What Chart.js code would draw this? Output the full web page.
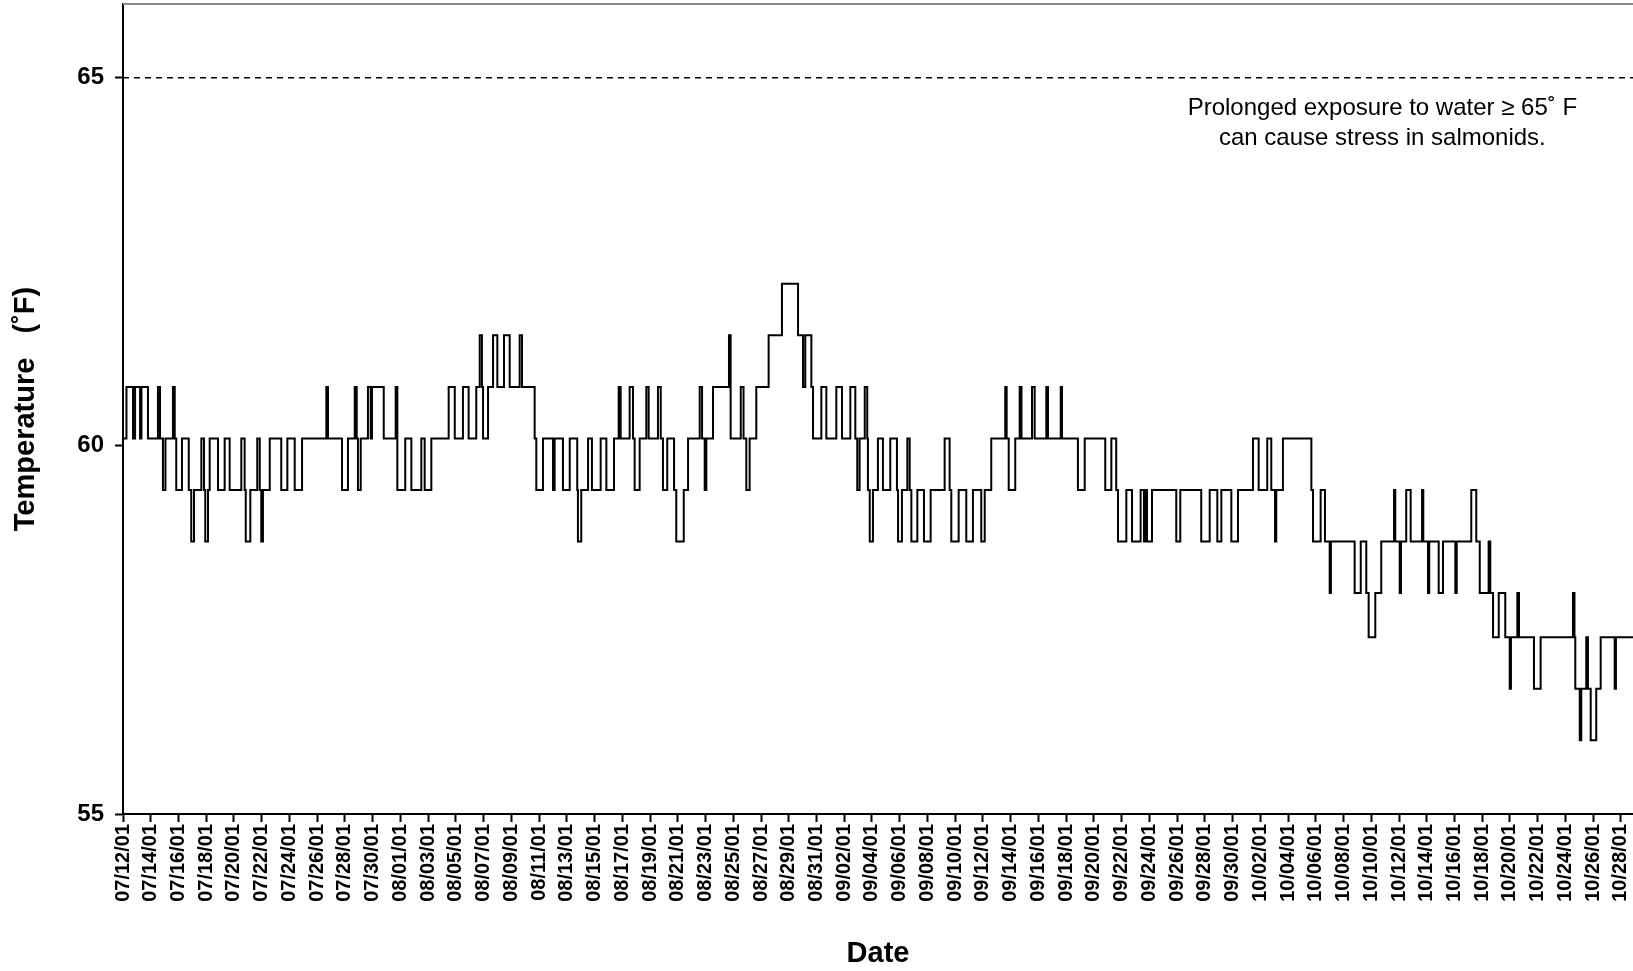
<!DOCTYPE html>
<html>
<head>
<meta charset="utf-8">
<title>Water temperature</title>
<script src="https://cdn.jsdelivr.net/npm/chart.js@4.4.1/dist/chart.umd.min.js"></script>
<style>
    html, body { margin: 0; padding: 0; background: #fff; }
    #wrap { position: relative; width: 1633px; height: 971px; }
</style>
</head>
<body>
<div id="wrap"><canvas id="tempChart"></canvas></div>
<script>
(function() {
    "use strict"; // Start of use strict

    // Logger trace: day offset from 07/12/01 00:00 where the reading changes, and the new reading (deg F)
    var days = [
        0, 0.25, 0.72, 0.87, 1.23, 1.33, 1.80, 2.52, 2.67, 2.88,
        3.06, 3.60, 3.73, 3.84, 4.25, 4.74, 4.92, 5.12, 5.65, 5.84,
        5.93, 6.13, 6.25, 6.85, 7.33, 7.69, 8.53, 8.77, 8.85, 9.18,
        9.68, 9.86, 9.97, 10.09, 10.58, 11.41, 11.85, 12.38, 12.91, 14.66,
        14.78, 15.79, 16.22, 16.71, 16.85, 16.94, 17.14, 17.66, 17.86, 17.95,
        18.80, 19.66, 19.78, 20.35, 20.79, 21.51, 21.75, 22.23, 23.48, 23.92,
        24.51, 24.92, 25.47, 25.72, 25.88, 25.96, 26.32, 26.68, 26.99, 27.47,
        27.88, 28.60, 28.77, 29.68, 29.80, 30.28, 31.00, 31.12, 31.72, 32.21,
        32.75, 32.80, 33.04, 33.53, 33.81, 34.44, 34.85, 35.40, 35.74, 35.88,
        36.53, 36.77, 36.89, 37.25, 37.73, 37.90, 38.57, 38.77, 38.93, 39.24,
        39.73, 39.89, 40.43, 40.74, 41.58, 41.75, 41.94, 42.06, 42.54, 43.69,
        43.81, 44.54, 44.74, 44.94, 45.18, 45.66, 46.55, 47.51, 48.67, 49.03,
        49.19, 49.63, 49.75, 50.35, 50.71, 51.43, 51.84, 52.44, 52.80, 52.94,
        53.11, 53.48, 53.66, 53.71, 53.84, 54.07, 54.43, 54.79, 55.32, 55.80,
        55.88, 56.16, 56.55, 56.72, 56.84, 57.27, 57.75, 58.23, 59.24, 59.60,
        59.72, 60.25, 60.80, 61.28, 61.88, 62.13, 62.60, 63.61, 63.71, 63.86,
        64.33, 64.65, 64.78, 65.54, 65.73, 66.57, 66.69, 67.61, 67.70, 68.85,
        69.34, 70.82, 71.26, 71.61, 71.74, 72.34, 72.75, 73.37, 73.61, 73.72,
        73.83, 74.19, 75.94, 76.23, 77.74, 78.35, 78.90, 79.19, 79.91, 80.39,
        81.47, 81.88, 82.50, 82.79, 83.06, 83.15, 83.63, 85.68, 85.80, 86.35,
        86.66, 87.00, 87.09, 88.80, 89.24, 89.64, 89.81, 90.29, 90.72, 91.64,
        91.73, 92.05, 92.14, 92.52, 92.84, 93.66, 93.75, 94.09, 94.18, 94.86,
        95.17, 96.06, 96.16, 97.21, 97.57, 97.82, 98.46, 98.58, 98.78, 99.19,
        99.66, 99.98, 100.07, 100.53, 100.65, 101.73, 102.21, 104.54, 104.65, 104.71,
        105.03, 105.14, 105.50, 105.62, 105.82, 106.22, 106.54, 107.55, 107.64, 108.87
    ];
    var tempF = [
        60.1, 60.8, 60.1, 60.8, 60.1, 60.8, 60.1, 60.8, 60.1, 59.4,
        60.1, 60.8, 60.1, 59.4, 60.1, 59.4, 58.7, 59.4, 60.1, 59.4,
        58.7, 59.4, 60.1, 59.4, 60.1, 59.4, 60.1, 59.4, 58.7, 59.4,
        60.1, 59.4, 58.7, 59.4, 60.1, 59.4, 60.1, 59.4, 60.1, 60.8,
        60.1, 59.4, 60.1, 60.8, 60.1, 59.4, 60.1, 60.8, 60.1, 60.8,
        60.1, 60.8, 59.4, 60.1, 59.4, 60.1, 59.4, 60.1, 60.8, 60.1,
        60.8, 60.1, 60.8, 61.5, 60.8, 60.1, 60.8, 61.5, 60.8, 61.5,
        60.8, 61.5, 60.8, 60.1, 59.4, 60.1, 59.4, 60.1, 59.4, 60.1,
        59.4, 58.7, 59.4, 60.1, 59.4, 60.1, 59.4, 60.1, 60.8, 60.1,
        60.8, 60.1, 59.4, 60.1, 60.8, 60.1, 60.8, 60.1, 59.4, 60.1,
        59.4, 58.7, 59.4, 60.1, 60.8, 60.1, 59.4, 60.1, 60.8, 61.5,
        60.1, 60.8, 60.1, 59.4, 60.1, 60.8, 61.5, 62.2, 61.5, 60.8,
        61.5, 60.8, 60.1, 60.8, 60.1, 60.8, 60.1, 60.8, 60.1, 59.4,
        60.1, 60.8, 60.1, 59.4, 58.7, 59.4, 60.1, 59.4, 60.1, 59.4,
        58.7, 59.4, 60.1, 59.4, 58.7, 59.4, 58.7, 59.4, 60.1, 59.4,
        58.7, 59.4, 58.7, 59.4, 58.7, 59.4, 60.1, 60.8, 60.1, 59.4,
        60.1, 60.8, 60.1, 60.8, 60.1, 60.8, 60.1, 60.8, 60.1, 59.4,
        60.1, 59.4, 60.1, 59.4, 58.7, 59.4, 58.7, 59.4, 58.7, 59.4,
        58.7, 59.4, 58.7, 59.4, 58.7, 59.4, 58.7, 59.4, 58.7, 59.4,
        60.1, 59.4, 60.1, 59.4, 58.7, 59.4, 60.1, 59.4, 58.7, 59.4,
        58.7, 58.0, 58.7, 58.0, 58.7, 58.0, 57.4, 58.0, 58.7, 59.4,
        58.7, 58.0, 58.7, 59.4, 58.7, 59.4, 58.7, 58.0, 58.7, 58.0,
        58.7, 58.0, 58.7, 59.4, 58.7, 58.0, 58.7, 58.0, 57.4, 58.0,
        57.4, 56.7, 57.4, 58.0, 57.4, 56.7, 57.4, 58.0, 57.4, 56.7,
        56.0, 56.7, 57.4, 56.7, 56.0, 56.7, 57.4, 56.7, 57.4, 57.4
    ];

    // Date ticks, one every 2 days from day 0
    var dateLabels = [
        '07/12/01', '07/14/01', '07/16/01', '07/18/01', '07/20/01', '07/22/01', '07/24/01', '07/26/01', '07/28/01', '07/30/01',
        '08/01/01', '08/03/01', '08/05/01', '08/07/01', '08/09/01', '08/11/01', '08/13/01', '08/15/01', '08/17/01', '08/19/01',
        '08/21/01', '08/23/01', '08/25/01', '08/27/01', '08/29/01', '08/31/01', '09/02/01', '09/04/01', '09/06/01', '09/08/01',
        '09/10/01', '09/12/01', '09/14/01', '09/16/01', '09/18/01', '09/20/01', '09/22/01', '09/24/01', '09/26/01', '09/28/01',
        '09/30/01', '10/02/01', '10/04/01', '10/06/01', '10/08/01', '10/10/01', '10/12/01', '10/14/01', '10/16/01', '10/18/01',
        '10/20/01', '10/22/01', '10/24/01', '10/26/01', '10/28/01'
    ];
    var yTickValues = [55, 60, 65];
    var thresholdF = 65;
    var noteLines = ['Prolonged exposure to water \u2265 65\u02DA F', 'can cause stress in salmonids.'];

    var fontFamily = '"Liberation Sans", Arial, Helvetica, sans-serif';
    var xMax = 108.87;

    var trace = days.map(function(d, i) {
        return { x: d, y: tempF[i] };
    });

    // Top frame line and the note under the 65 line
    var framePlugin = {
        id: 'frameAndNote',
        afterDatasetsDraw: function(chart) {
            var ctx = chart.ctx;
            var area = chart.chartArea;
            var xs = chart.scales.x;
            var ys = chart.scales.y;
            ctx.save();
            ctx.strokeStyle = '#8a8a8a';
            ctx.lineWidth = 2;
            ctx.beginPath();
            ctx.moveTo(area.left, area.top);
            ctx.lineTo(area.right, area.top);
            ctx.stroke();

            ctx.fillStyle = '#000';
            ctx.font = '24px ' + fontFamily;
            ctx.textAlign = 'center';
            ctx.textBaseline = 'middle';
            var cx = xs.getPixelForValue(90.8);
            var cy = ys.getPixelForValue(64.58);
            noteLines.forEach(function(line, i) {
                ctx.fillText(line, cx, cy + i * 29.5);
            });
            ctx.restore();
        }
    };

    var ctx = document.getElementById('tempChart');
    var tempChart = new Chart(ctx, {
        type: 'line',
        data: {
            datasets: [
                {
                    label: 'Temperature',
                    data: trace,
                    borderColor: '#000',
                    borderWidth: 2,
                    stepped: 'before',
                    pointRadius: 0,
                    fill: false
                },
                {
                    label: 'Threshold',
                    data: [{ x: 0, y: thresholdF }, { x: xMax, y: thresholdF }],
                    borderColor: '#000',
                    borderWidth: 1.5,
                    borderDash: [6, 5],
                    pointRadius: 0,
                    fill: false
                }
            ]
        },
        options: {
            responsive: true,
            maintainAspectRatio: false,
            devicePixelRatio: 1,
            animation: false,
            parsing: false,
            layout: { padding: { top: 4, right: 0, bottom: 0, left: 0 } },
            plugins: {
                legend: { display: false },
                tooltip: { enabled: false }
            },
            scales: {
                x: {
                    type: 'linear',
                    min: 0,
                    max: xMax,
                    afterBuildTicks: function(scale) {
                        scale.ticks = dateLabels.map(function(l, i) {
                            return { value: i * 2 };
                        });
                    },
                    afterFit: function(scale) {
                        scale.height = 157;
                        scale.paddingLeft = 0;
                        scale.paddingRight = 0;
                    },
                    ticks: {
                        autoSkip: false,
                        maxRotation: 90,
                        minRotation: 90,
                        padding: 2,
                        color: '#000',
                        font: { family: fontFamily, size: 20, weight: 'bold' },
                        callback: function(value, index) {
                            return dateLabels[index];
                        }
                    },
                    grid: {
                        drawOnChartArea: false,
                        drawTicks: true,
                        tickLength: 8,
                        tickWidth: 2,
                        color: '#000'
                    },
                    border: { display: true, color: '#000', width: 2 },
                    title: {
                        display: true,
                        text: 'Date',
                        color: '#000',
                        padding: { top: 0, bottom: 0 },
                        font: { family: fontFamily, size: 29, weight: 'bold' }
                    }
                },
                y: {
                    type: 'linear',
                    min: 55,
                    max: 66,
                    afterBuildTicks: function(scale) {
                        scale.ticks = yTickValues.map(function(v) {
                            return { value: v };
                        });
                    },
                    afterFit: function(scale) {
                        scale.width = 123;
                        scale.paddingTop = 0;
                        scale.paddingBottom = 0;
                    },
                    ticks: {
                        padding: 11,
                        color: '#000',
                        font: { family: fontFamily, size: 24, weight: 'bold' }
                    },
                    grid: {
                        drawOnChartArea: false,
                        drawTicks: true,
                        tickLength: 8,
                        tickWidth: 2,
                        color: '#000'
                    },
                    border: { display: true, color: '#000', width: 2 },
                    title: {
                        display: true,
                        text: 'Temperature   (\u02DAF)',
                        color: '#000',
                        padding: { top: 9, bottom: 0 },
                        font: { family: fontFamily, size: 29, weight: 'bold' }
                    }
                }
            }
        },
        plugins: [framePlugin]
    });

})(); // End of use strict
</script>
</body>
</html>
